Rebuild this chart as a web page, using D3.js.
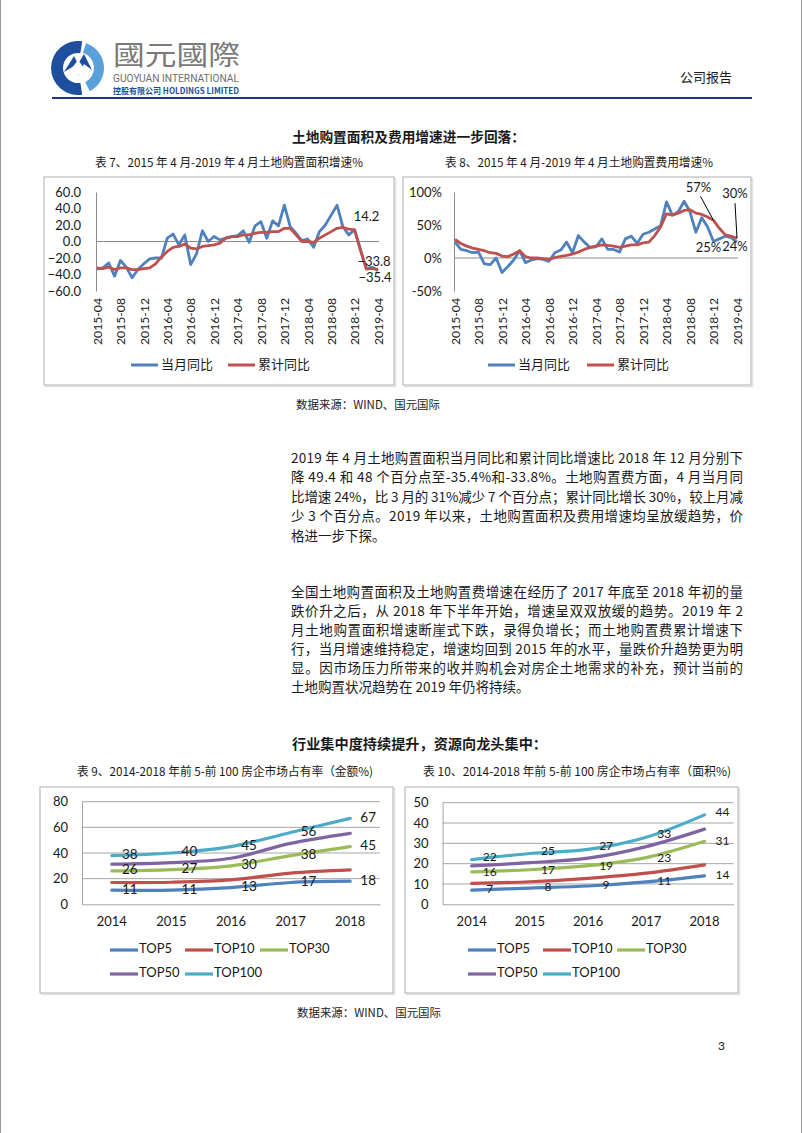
<!DOCTYPE html>
<html><head><meta charset="utf-8">
<script src="https://cdn.jsdelivr.net/npm/d3@7"></script>
<style>body{margin:0;background:#fff}svg{display:block}</style>
</head><body>
<svg id="c" width="802" height="1133"></svg>
<script>
// ---------------- DATA ----------------
const months = ["2015-04","2015-05","2015-06","2015-07","2015-08","2015-09","2015-10","2015-11","2015-12",
"2016-01","2016-02","2016-03","2016-04","2016-05","2016-06","2016-07","2016-08","2016-09","2016-10","2016-11","2016-12",
"2017-01","2017-02","2017-03","2017-04","2017-05","2017-06","2017-07","2017-08","2017-09","2017-10","2017-11","2017-12",
"2018-01","2018-02","2018-03","2018-04","2018-05","2018-06","2018-07","2018-08","2018-09","2018-10","2018-11","2018-12",
"2019-01","2019-02","2019-03","2019-04"];
const monthTicks = ["2015-04","2015-08","2015-12","2016-04","2016-08","2016-12","2017-04","2017-08","2017-12","2018-04","2018-08","2018-12","2019-04"];
const seriesNames = ["当月同比","累计同比"];
// 表7 土地购置面积增速%
const areaMonthly = [-33.5,-32,-26,-42,-23,-31,-44,-34,-27,-21,-20,-20,4,9,-4,8,-28,-15,13,0,6,2,4,6,7,13,-1,19,24,4,25,19,44,18,10,1,3,-7,12,20,32,44,18,8,14.2,-10,-33,-31,-35.4];
const areaCum = [-32,-33,-31,-34,-32,-32,-34,-34,-33,-32,-27,-19,-12,-7,-6,-3,-8,-9,-6,-5,-4,-2,4,6,6,8,8,10,11,11,12,12,16,16,8,0,0,-1,4,8,12,16,17,15,14,-10,-33.5,-32.7,-33.8];
const areaTicks = [60,40,20,0,-20,-40,-60];
// 表8 土地购置费用增速%
const costMonthly = [24,13,11,8,9,-9,-10,0,-22,-13,-3,11,-7,-3,-1,-2,-5,8,12,24,8,34,24,16,17,29,13,13,9,29,33,22,36,39,44,49,85,65,70,86,70,39,61,47,25,29,33,31,24];
const costCum = [28,22,18,15,13,11,8,7,3,2,6,11,2,0,0,-1,-2,0.5,2.5,4,6,9,13,16,18,20,19,18,16,18,20,20,23,24,34,47,67,65,68,72,73,68,66,62,57,45,35,33,30];
const costTicks = [100,50,0,-50];
// 表9 / 表10
const years = ["2014","2015","2016","2017","2018"];
const tops = ["TOP5","TOP10","TOP30","TOP50","TOP100"];
const amtTop5 = [11,11,13,17,18];
const amtTop10 = [17,17.2,19,24.3,26.8];
const amtTop30 = [26,27,30,38,45];
const amtTop50 = [31.3,32.5,35.9,47.5,55.3];
const amtTop100 = [38,40,45,56,67];
const amtTicks = [0,20,40,60,80];
const arTop5 = [7,8,9,11,14];
const arTop10 = [10.3,11.1,12.8,15.3,19.4];
const arTop30 = [16,17,19,23,31];
const arTop50 = [18.9,20.5,22.7,28.4,37];
const arTop100 = [22,25,27,33,44];
const arTicks = [0,10,20,30,40,50];

// ---------------- STYLE ----------------
const svg = d3.select("#c");
const LAT = 'Lato, "Noto Sans CJK SC", sans-serif';
const CJK = '"Noto Sans CJK SC", "Noto Sans", sans-serif';
const BLUE = "#4F81BD", RED = "#C0504D", GREEN = "#9BBB59", PURPLE = "#8064A2", CYAN = "#4BACC6";
const TXT = "#1a1a1a";

// page edges
svg.append("line").attr("x1",0.5).attr("x2",0.5).attr("y1",0).attr("y2",1133).attr("stroke","#9a9a9a");
svg.append("line").attr("x1",801.5).attr("x2",801.5).attr("y1",0).attr("y2",1133).attr("stroke","#9a9a9a");

// ---------------- HEADER ----------------
const logo = svg.append("g").attr("transform","translate(78,68)");
const arc = d3.arc();
logo.append("path").attr("d", arc({innerRadius:15, outerRadius:27, startAngle: Math.PI*0.95, endAngle: Math.PI*2.05})).attr("fill","#1d4f9e");
logo.append("path").attr("d", arc({innerRadius:16, outerRadius:26, startAngle: Math.PI*0.1, endAngle: Math.PI*0.85})).attr("fill","#5aa0da");
logo.append("path").attr("d","M-14,4 L-4,-12 L0,-4 L6,-14 L14,2 L6,-4 L0,8 L-4,-2 Z").attr("fill","#1d4f9e");
logo.append("path").attr("d","M0,-8 L6,0 L0,8 L-6,0 Z").attr("fill","#fff");
svg.append("text").attr("x",113).attr("y",65).attr("font-family",CJK).attr("font-size",27).attr("fill","#7a7a7a")
  .attr("textLength",127).attr("lengthAdjust","spacingAndGlyphs").text("國元國際");
svg.append("text").attr("x",113).attr("y",82).attr("font-family",'"Liberation Sans Narrow","Roboto",sans-serif').attr("font-size",10).attr("fill","#6e6e6e")
  .attr("textLength",126).attr("lengthAdjust","spacingAndGlyphs").text("GUOYUAN INTERNATIONAL");
svg.append("text").attr("x",113).attr("y",94).attr("font-family",CJK).attr("font-size",8.5).attr("fill","#1d4f9e").attr("font-weight","bold")
  .attr("textLength",126).attr("lengthAdjust","spacingAndGlyphs").text("控股有限公司 HOLDINGS LIMITED");
svg.append("text").attr("x",680).attr("y",82).attr("font-family",CJK).attr("font-size",13).attr("fill",TXT).text("公司报告");
svg.append("line").attr("x1",52).attr("x2",752).attr("y1",98).attr("y2",98).attr("stroke","#1f3878").attr("stroke-width",2);

// ---------------- HEADINGS / TEXT ----------------
function txt(x,y,s,size,opts={}) {
  const t = svg.append("text").attr("x",x).attr("y",y).attr("font-family",opts.font||CJK).attr("font-size",size)
    .attr("fill",opts.fill||TXT).attr("dominant-baseline","middle").text(s);
  if (opts.bold) t.attr("font-weight","bold");
  if (opts.len) t.attr("textLength",opts.len).attr("lengthAdjust","spacingAndGlyphs");
  if (opts.anchor) t.attr("text-anchor",opts.anchor);
  return t;
}
txt(292,138,"土地购置面积及费用增速进一步回落：",14,{bold:true,len:233});
txt(95,164,"表 7、2015 年 4 月-2019 年 4 月土地购置面积增速%",12,{len:268});
txt(445,164,"表 8、2015 年 4 月-2019 年 4 月土地购置费用增速%",12,{len:268});
txt(296,406,"数据来源：WIND、国元国际",11.5,{len:144});

const para1 = ["2019 年 4 月土地购置面积当月同比和累计同比增速比 2018 年 12 月分别下",
"降 49.4 和 48 个百分点至-35.4%和-33.8%。土地购置费方面，4 月当月同",
"比增速 24%，比 3 月的 31%减少 7 个百分点；累计同比增长 30%，较上月减",
"少 3 个百分点。2019 年以来，土地购置面积及费用增速均呈放缓趋势，价",
"格进一步下探。"];
const para2 = ["全国土地购置面积及土地购置费增速在经历了 2017 年底至 2018 年初的量",
"跌价升之后，从 2018 年下半年开始，增速呈双双放缓的趋势。2019 年 2",
"月土地购置面积增速断崖式下跌，录得负增长；而土地购置费累计增速下",
"行，当月增速维持稳定，增速均回到 2015 年的水平，量跌价升趋势更为明",
"显。因市场压力所带来的收并购机会对房企土地需求的补充，预计当前的",
"土地购置状况趋势在 2019 年仍将持续。"];
function para(lines, y0, lh) {
  lines.forEach((s,i) => {
    const t = txt(291, y0 + i*lh, s, 13.5);
    if (i < lines.length-1) t.attr("textLength",452).attr("lengthAdjust","spacing");
  });
}
para(para1, 459, 19.6);
para(para2, 593, 19.1);

txt(292,745,"行业集中度持续提升，资源向龙头集中：",14,{bold:true,len:255});
txt(77,773,"表 9、2014-2018 年前 5-前 100 房企市场占有率（金额%)",12,{len:296});
txt(423,773,"表 10、2014-2018 年前 5-前 100 房企市场占有率（面积%)",12,{len:308});
txt(297,1014,"数据来源：WIND、国元国际",11.5,{len:144});
txt(718,1047,"3",12,{font:LAT});

// ---------------- CHART BOX ----------------
function box(x0,y0,x1,y1) {
  svg.append("rect").attr("x",x0+1.5).attr("y",y0+1.5).attr("width",x1-x0).attr("height",y1-y0).attr("fill","none").attr("stroke","#e2e2e2").attr("stroke-width",1.5);
  svg.append("rect").attr("x",x0).attr("y",y0).attr("width",x1-x0).attr("height",y1-y0).attr("fill","#fff").attr("stroke","#bdbdbd").attr("stroke-width",1.2);
}

// ---------------- TOP CHARTS ----------------
function topChart(o) {
  box(o.bx0,177,o.bx1,385);
  const g = svg.append("g");
  const x = d3.scalePoint().domain(months).range([o.x0,o.x1]);
  const y = d3.scaleLinear().domain(o.yDomain).range([291,192]);
  const ya = g.append("g").attr("transform",`translate(${o.axisX},0)`)
    .call(d3.axisLeft(y).tickValues(o.ticks).tickFormat(o.fmt).tickSize(0).tickPadding(o.pad));
  ya.select(".domain").attr("stroke","#8c8c8c");
  ya.selectAll("text").attr("font-family",LAT).attr("font-size",13).attr("fill",TXT);
  g.append("line").attr("x1",o.axisX).attr("x2",o.x1+1).attr("y1",y(0)).attr("y2",y(0)).attr("stroke","#8c8c8c");
  const xa = g.append("g").attr("transform","translate(0,298)")
    .call(d3.axisBottom(x).tickValues(monthTicks).tickSize(0).tickPadding(0));
  xa.select(".domain").remove();
  xa.selectAll("text").attr("font-family",LAT).attr("font-size",12.2).attr("fill",TXT)
    .attr("text-anchor","end").attr("dy","0.35em").attr("y",0)
    .attr("transform","rotate(-90)");
  const line = d3.line().x((d,i)=>x(months[i])).y(d=>y(d));
  g.append("path").datum(o.s1).attr("d",line).attr("fill","none").attr("stroke",BLUE).attr("stroke-width",2.8).attr("stroke-linejoin","round");
  g.append("path").datum(o.s2).attr("d",line).attr("fill","none").attr("stroke",RED).attr("stroke-width",2.8).attr("stroke-linejoin","round");
  [[BLUE,o.lx[0]],[RED,o.lx[1]]].forEach(([c,lx],k)=>{
    g.append("line").attr("x1",lx).attr("x2",lx+27).attr("y1",365).attr("y2",365).attr("stroke",c).attr("stroke-width",3);
    g.append("text").attr("x",lx+30).attr("y",365).attr("dominant-baseline","middle").attr("font-family",CJK).attr("font-size",13).attr("fill",TXT).text(seriesNames[k]);
  });
  return {g,x,y};
}

const c7 = topChart({bx0:44,bx1:394,x0:97,x1:378,axisX:96,pad:15,yDomain:[-60,60],ticks:areaTicks,fmt:d3.format(".1f"),
  s1:areaMonthly,s2:areaCum,lx:[131,228]});
{
  const {g,x,y} = c7; const n=months.length-1;
  const lab=(xx,yy,s)=>g.append("text").attr("x",xx).attr("y",yy).attr("text-anchor","middle").attr("dominant-baseline","middle").attr("font-family",LAT).attr("font-size",13).attr("fill",TXT).text(s);
  lab(x(months[44])+12, y(areaMonthly[44])-12, d3.format(".1f")(areaMonthly[44]));
  lab(x(months[n])-4, y(areaCum[n])-7, d3.format(".1f")(areaCum[n]));
  lab(x(months[n])-3, y(areaMonthly[n])+8, d3.format(".1f")(areaMonthly[n]));
}

const c8 = topChart({bx0:403,bx1:751,x0:455,x1:737,axisX:454,pad:12,yDomain:[-50,100],ticks:costTicks,fmt:d=>d+"%",
  s1:costMonthly,s2:costCum,lx:[488,587]});
{
  const {g,x,y} = c8; const n=months.length-1;
  const lab=(xx,yy,s)=>g.append("text").attr("x",xx).attr("y",yy).attr("text-anchor","middle").attr("dominant-baseline","middle").attr("font-family",LAT).attr("font-size",13).attr("fill",TXT).text(s);
  const p1=[x(months[44]),y(costCum[44])], p2=[x(months[n]),y(costCum[n])];
  lab(p1[0]-15, p1[1]-32, costCum[44]+"%");
  g.append("line").attr("x1",p1[0]-13).attr("y1",p1[1]-24).attr("x2",p1[0]).attr("y2",p1[1]).attr("stroke","#000").attr("stroke-width",1);
  lab(p2[0]-2, p2[1]-43, costCum[n]+"%");
  g.append("line").attr("x1",p2[0]-2).attr("y1",p2[1]-35).attr("x2",p2[0]).attr("y2",p2[1]).attr("stroke","#000").attr("stroke-width",1);
  lab(x(months[44])-5, y(costMonthly[44])+7, costMonthly[44]+"%");
  lab(x(months[n])-2, y(costMonthly[n])+6, costMonthly[n]+"%");
}

// ---------------- BOTTOM CHARTS ----------------
function bottomChart(o) {
  box(o.bx0,787,o.bx1,993);
  const g = svg.append("g");
  const x = d3.scaleBand().domain(years).range([o.l,o.r]);
  const cx = d => x(d) + x.bandwidth()/2;
  const y = d3.scaleLinear().domain([0,o.max]).range([904.3,o.t]);
  g.append("g").selectAll("line").data(o.ticks.filter(d=>d>0)).join("line")
    .attr("x1",o.l).attr("x2",o.r).attr("y1",d=>y(d)).attr("y2",d=>y(d)).attr("stroke","#a6a6a6").attr("stroke-width",1);
  const ya = g.append("g").attr("transform",`translate(${o.l},0)`)
    .call(d3.axisLeft(y).tickValues(o.ticks).tickSize(0).tickPadding(14));
  ya.select(".domain").attr("stroke","#a6a6a6");
  ya.selectAll("text").attr("font-family",LAT).attr("font-size",13).attr("fill",TXT);
  const xa = g.append("g").attr("transform","translate(0,904.3)")
    .call(d3.axisBottom(x).tickSize(0).tickPadding(12));
  xa.select(".domain").attr("stroke","#a6a6a6");
  xa.selectAll("text").attr("font-family",LAT).attr("font-size",13).attr("fill",TXT);
  const line = d3.line().x((d,i)=>cx(years[i])).y(d=>y(d)).curve(d3.curveCatmullRom.alpha(0.5));
  const cols = [BLUE,RED,GREEN,PURPLE,CYAN];
  o.series.forEach((s,k)=>{
    g.append("path").datum(s).attr("d",line).attr("fill","none").attr("stroke",cols[k]).attr("stroke-width",3.2).attr("stroke-linecap","round");
  });
  o.labeled.forEach((k,j)=>{
    g.append("g").selectAll("text").data(o.series[k]).join("text")
      .attr("x",(d,i)=>cx(years[i])+18).attr("y",d=>y(d)+o.ldy[j]).attr("text-anchor","middle").attr("dominant-baseline","middle")
      .attr("font-family",LAT).attr("font-size",o.lfs).attr("fill",TXT).text(d=>d3.format("d")(d));
  });
  tops.forEach((t,k)=>{
    const lx = o.lx[k%3], ly = k<3 ? 950 : 974;
    g.append("line").attr("x1",lx).attr("x2",lx+28).attr("y1",ly).attr("y2",ly).attr("stroke",cols[k]).attr("stroke-width",3.2);
    g.append("text").attr("x",lx+29).attr("y",ly).attr("dominant-baseline","middle").attr("font-family",LAT).attr("font-size",13).attr("fill",TXT).text(t);
  });
}
bottomChart({bx0:40,bx1:393,l:82,r:380,t:801.7,max:80,ticks:amtTicks,lfs:13.5,ldy:[0,0,0],
  series:[amtTop5,amtTop10,amtTop30,amtTop50,amtTop100],labeled:[0,2,4],lx:[110,185,260]});
bottomChart({bx0:405,bx1:738,l:442.6,r:733.6,t:802.7,max:50,ticks:arTicks,lfs:12,ldy:[0,1,-2],
  series:[arTop5,arTop10,arTop30,arTop50,arTop100],labeled:[0,2,4],lx:[468,543,617]});
</script>
</body></html>
